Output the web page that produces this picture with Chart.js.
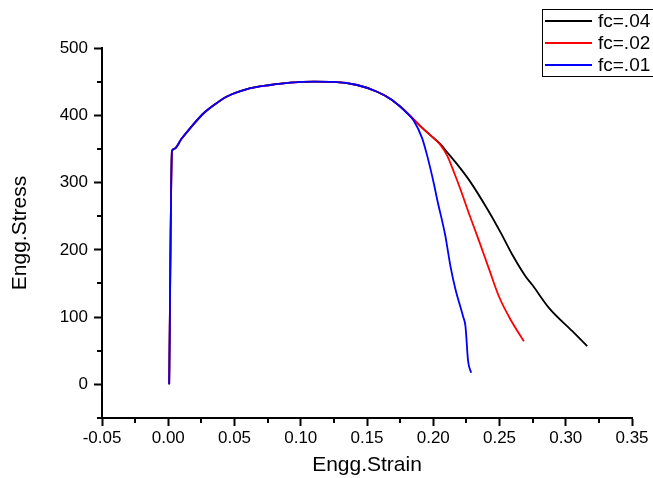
<!DOCTYPE html>
<html>
<head>
<meta charset="utf-8">
<script src="https://cdn.jsdelivr.net/npm/chart.js@4/dist/chart.umd.min.js"></script>
<style>
  html, body { margin: 0; padding: 0; background: #fff; }
  #wrap { width: 653px; height: 478px; }
</style>
</head>
<body>
<div id="wrap"><canvas id="c" width="653" height="478"></canvas></div>
<script>
// ---- data ----
const seriesNames = ["fc=.04", "fc=.02", "fc=.01"];
const seriesColors = ["#000000", "#ff0000", "#0000ff"];

// shared elastic/hardening part (all three curves overlap)
const commonStrain = [0.0007, 0.0028, 0.0045, 0.010, 0.0166, 0.0267, 0.035, 0.0443, 0.0594, 0.077, 0.092, 0.110, 0.125, 0.1425, 0.1576, 0.168, 0.175];
const commonStress = [0, 347, 350, 365, 381, 403, 416, 428, 439, 445, 448.5, 450, 449.6, 445, 435, 424, 413];

// fc=.04 tail
const strain04 = [0.179, 0.1903, 0.198, 0.2054, 0.2105, 0.2205, 0.228, 0.2407, 0.2508, 0.2596, 0.2696, 0.2747, 0.2873, 0.305, 0.3162];
const stress04 = [406, 384, 370, 357, 345, 321, 301, 261, 226, 193, 160.7, 148, 113.8, 79, 56.8];

// fc=.02 tail
const strain02 = [0.179, 0.1903, 0.198, 0.2054, 0.2105, 0.2155, 0.2205, 0.2268, 0.2344, 0.242, 0.2495, 0.2583, 0.2684];
const stress02 = [406, 384, 370, 356, 340, 316, 290, 254.7, 214, 172, 131, 96.4, 64];

// fc=.01 tail
const strain01 = [0.179, 0.1853, 0.1916, 0.1954, 0.2004, 0.203, 0.209, 0.213, 0.2168, 0.2225, 0.2243, 0.2263, 0.2286];
const stress01 = [405.5, 392, 366, 340, 299, 274.5, 222, 175.5, 141, 101, 86.5, 34.6, 17.3];

const xTicks = [-0.05, 0.00, 0.05, 0.10, 0.15, 0.20, 0.25, 0.30, 0.35];
const xMinorTicks = [-0.025, 0.025, 0.075, 0.125, 0.175, 0.225, 0.275, 0.325];
const yTicks = [0, 100, 200, 300, 400, 500];
const yMinorTicks = [-50, 50, 150, 250, 350, 450];

function pts(xs, ys) { return xs.map((x, i) => ({ x: x, y: ys[i] })); }
const data04 = pts(commonStrain.concat(strain04), commonStress.concat(stress04));
const data02 = pts(commonStrain.concat(strain02), commonStress.concat(stress02));
const data01 = pts(commonStrain.concat(strain01), commonStress.concat(stress01));

const FONT = "'Liberation Sans', Arial, sans-serif";

const minorTicksPlugin = {
  id: 'minorTicks',
  afterDraw(chart) {
    const ctx = chart.ctx;
    const xs = chart.scales.x, ys = chart.scales.y;
    ctx.save();
    ctx.strokeStyle = '#000';
    ctx.lineWidth = 2;
    ctx.beginPath();
    xMinorTicks.forEach(v => {
      const px = Math.round(xs.getPixelForValue(v));
      ctx.moveTo(px, ys.bottom);
      ctx.lineTo(px, ys.bottom + 5);
    });
    yMinorTicks.forEach(v => {
      const py = Math.round(ys.getPixelForValue(v));
      ctx.moveTo(xs.left, py);
      ctx.lineTo(xs.left - 5, py);
    });
    ctx.stroke();
    ctx.restore();
  }
};

const legendPlugin = {
  id: 'boxLegend',
  afterDraw(chart) {
    const ctx = chart.ctx;
    ctx.save();
    ctx.strokeStyle = '#000';
    ctx.lineWidth = 1;
    ctx.strokeRect(542.5, 9.5, 140, 67);
    const rows = [21, 43, 65];
    ctx.font = "19px " + FONT;
    ctx.textBaseline = 'middle';
    ctx.textAlign = 'left';
    seriesNames.forEach((n, i) => {
      ctx.strokeStyle = seriesColors[i];
      ctx.lineWidth = 2;
      ctx.beginPath();
      ctx.moveTo(545, rows[i]);
      ctx.lineTo(592, rows[i]);
      ctx.stroke();
      ctx.fillStyle = '#000';
      ctx.fillText(n, 598, rows[i] + 1);
    });
    ctx.restore();
  }
};

new Chart(document.getElementById('c'), {
  type: 'scatter',
  data: {
    datasets: [
      { label: seriesNames[0], data: data04, borderColor: seriesColors[0], order: 3 },
      { label: seriesNames[1], data: data02, borderColor: seriesColors[1], order: 2 },
      { label: seriesNames[2], data: data01, borderColor: seriesColors[2], order: 1 }
    ].map(d => Object.assign(d, { showLine: true, pointRadius: 0, borderWidth: 1.8, cubicInterpolationMode: 'monotone', fill: false }))
  },
  options: {
    responsive: false,
    devicePixelRatio: 1,
    animation: false,
    layout: { padding: { left: 0, top: 48, right: 21, bottom: 0 } },
    plugins: { legend: { display: false }, tooltip: { enabled: false } },
    scales: {
      x: {
        type: 'linear',
        min: -0.05, max: 0.35,
        afterBuildTicks: s => { s.ticks = xTicks.map(v => ({ value: v })); },
        afterFit: s => { s.height = 60; },
        grid: { drawOnChartArea: false, drawTicks: true, tickLength: 8, tickColor: '#000', tickWidth: 2 },
        border: { display: true, color: '#000', width: 2 },
        ticks: { color: '#000', font: { family: FONT, size: 17 }, padding: 2, maxRotation: 0,
                 callback: v => v.toFixed(2) },
        title: { display: true, text: 'Engg.Strain', color: '#000', font: { family: FONT, size: 21 }, padding: { top: 0, bottom: 0 } }
      },
      y: {
        type: 'linear',
        min: -50, max: 500,
        afterBuildTicks: s => { s.ticks = yTicks.map(v => ({ value: v })); },
        afterFit: s => { s.width = 102; },
        grid: { drawOnChartArea: false, drawTicks: true, tickLength: 8, tickColor: '#000', tickWidth: 2 },
        border: { display: true, color: '#000', width: 2 },
        ticks: { color: '#000', font: { family: FONT, size: 17 }, padding: 6,
                 callback: v => String(v) },
        title: { display: true, text: 'Engg.Stress', color: '#000', font: { family: FONT, size: 21 }, padding: { top: 8, bottom: 0 } }
      }
    }
  },
  plugins: [minorTicksPlugin, legendPlugin]
});
</script>
</body>
</html>
